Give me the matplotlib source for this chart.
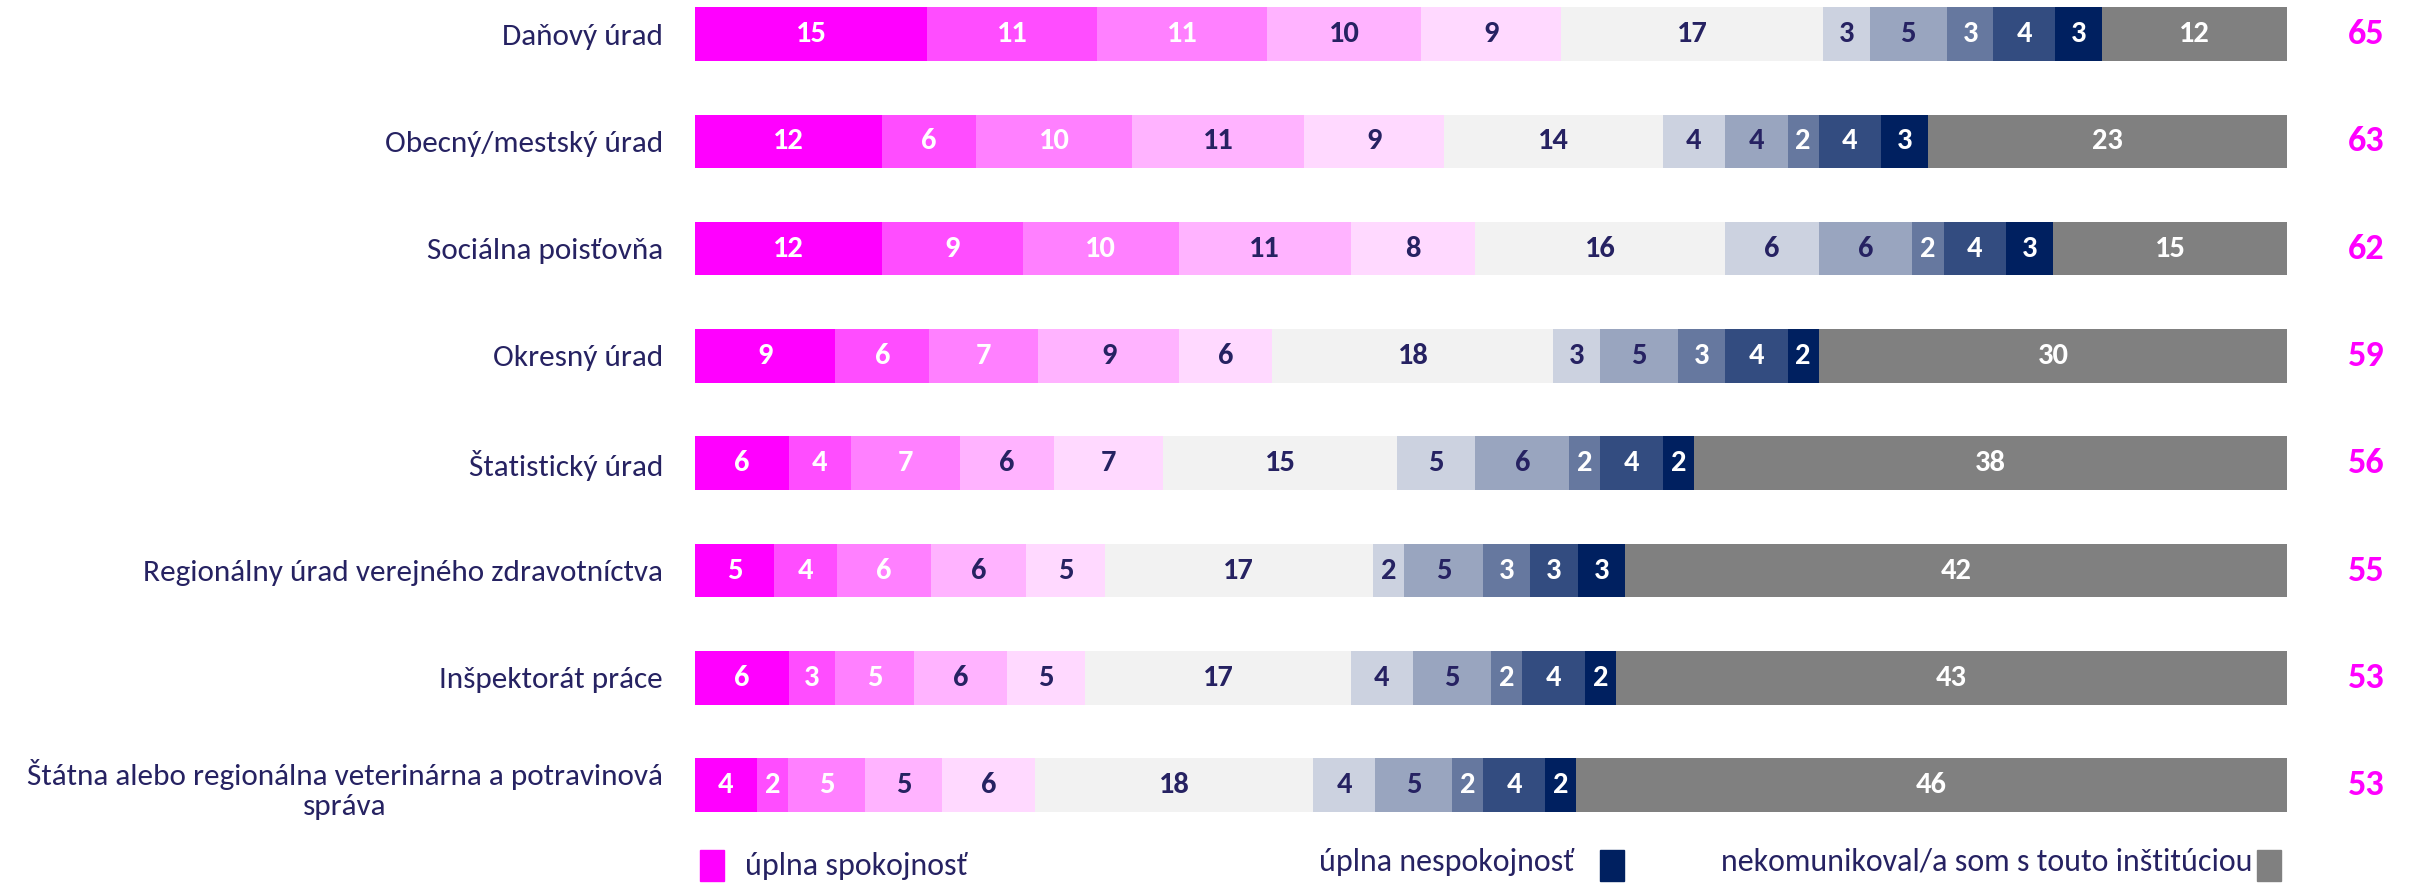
import numpy as np
import matplotlib
matplotlib.use("Agg")
import matplotlib.pyplot as plt
from matplotlib.patches import Rectangle

plt.rcParams['font.family'] = ['Carlito', 'Liberation Sans Narrow', 'DejaVu Sans']

# data
institutions = [
    'Daňový úrad',
    'Obecný/mestský úrad',
    'Sociálna poisťovňa',
    'Okresný úrad',
    'Štatistický úrad',
    'Regionálny úrad verejného zdravotníctva',
    'Inšpektorát práce',
    'Štátna alebo regionálna veterinárna a potravinová\nspráva',
]
# 5 pink (spokojnost) | neutral | 5 blue (nespokojnost) | nekomunikoval
values = [
    [15, 11, 11, 10, 9, 17, 3, 5, 3, 4, 3, 12],
    [12, 6, 10, 11, 9, 14, 4, 4, 2, 4, 3, 23],
    [12, 9, 10, 11, 8, 16, 6, 6, 2, 4, 3, 15],
    [9, 6, 7, 9, 6, 18, 3, 5, 3, 4, 2, 30],
    [6, 4, 7, 6, 7, 15, 5, 6, 2, 4, 2, 38],
    [5, 4, 6, 6, 5, 17, 2, 5, 3, 3, 3, 42],
    [6, 3, 5, 6, 5, 17, 4, 5, 2, 4, 2, 43],
    [4, 2, 5, 5, 6, 18, 4, 5, 2, 4, 2, 46],
]
scores = [65, 63, 62, 59, 56, 55, 53, 53]

colors = ['#FF00FF', '#FF4DFF', '#FF80FF', '#FFB3FF', '#FFD9FF', '#F2F2F2',
          '#CCD2E0', '#99A5BF', '#66789F', '#334C80', '#002060', '#808080']
label_colors = ['white', 'white', 'white', '#262262', '#262262', '#262262',
                '#262262', '#262262', 'white', 'white', 'white', 'white']
navy = '#262262'
magenta = '#FF00FF'

W, H = 2410, 883
fig = plt.figure(figsize=(W / 100, H / 100), dpi=100)
ax = fig.add_axes([695 / W, 1 - 840 / H, (2287 - 695) / W, 840 / H])

vals = np.array(values, dtype=float)
shares = vals / vals.sum(axis=1, keepdims=True) * 100
y = np.arange(len(institutions))

left = np.zeros(len(institutions))
for j in range(vals.shape[1]):
    ax.barh(y, shares[:, j], left=left, height=0.5, color=colors[j], edgecolor='none')
    for i in range(len(institutions)):
        ax.text(left[i] + shares[i, j] / 2, y[i], f'{int(vals[i, j])}',
                ha='center', va='center', fontsize=22, fontweight='bold',
                color=label_colors[j])
    left += shares[:, j]

for i, s in enumerate(scores):
    ax.text(105.0, y[i], str(s), ha='center', va='center', fontsize=26,
            fontweight='bold', color=magenta, clip_on=False)

ax.set_xlim(0, 100)
ax.set_ylim(7.51, -0.317)
ax.set_yticks(y)
ax.set_yticklabels(institutions, fontsize=22.5, color=navy, ha='right')
for lbl in ax.get_yticklabels():
    lbl.set_multialignment('center')
ax.tick_params(axis='y', length=0, pad=23)
ax.set_xticks([])
for sp in ax.spines.values():
    sp.set_visible(False)

# legend
def fx(px):
    return px / W

def fy(py):
    return 1 - py / H

fig.patches.append(Rectangle((fx(700), fy(881)), 24 / W, 31 / H,
                             transform=fig.transFigure, color=colors[0]))
fig.text(fx(745), fy(866), 'úplna spokojnosť', fontsize=23, color=navy, va='center')
fig.text(fx(1319), fy(862), 'úplna nespokojnosť', fontsize=23, color=navy, va='center')
fig.patches.append(Rectangle((fx(1600), fy(881)), 24 / W, 31 / H,
                             transform=fig.transFigure, color=colors[10]))
fig.text(fx(1721), fy(862), 'nekomunikoval/a som s touto inštitúciou', fontsize=23,
         color=navy, va='center')
fig.patches.append(Rectangle((fx(2257), fy(881)), 24 / W, 31 / H,
                             transform=fig.transFigure, color=colors[11]))

fig.savefig('out.png', dpi=100)
